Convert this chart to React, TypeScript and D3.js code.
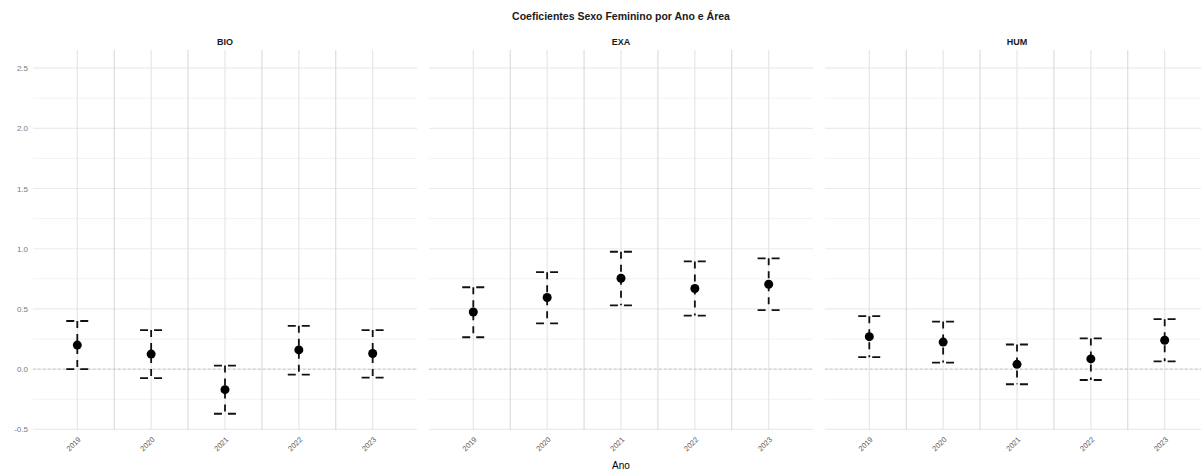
import React from 'react'
import * as d3 from 'd3'

const width = 1201
const height = 470

const years = ['2019', '2020', '2021', '2022', '2023']
const areas = ['BIO', 'EXA', 'HUM']

// coefficient and confidence interval per area, in year order
const bioEst = [0.2, 0.125, -0.17, 0.16, 0.13]
const bioLow = [0.0, -0.075, -0.37, -0.045, -0.07]
const bioHigh = [0.4, 0.325, 0.03, 0.36, 0.325]

const exaEst = [0.475, 0.595, 0.755, 0.67, 0.705]
const exaLow = [0.265, 0.38, 0.53, 0.445, 0.49]
const exaHigh = [0.68, 0.805, 0.975, 0.895, 0.92]

const humEst = [0.27, 0.225, 0.04, 0.085, 0.24]
const humLow = [0.1, 0.055, -0.125, -0.09, 0.065]
const humHigh = [0.44, 0.395, 0.205, 0.255, 0.415]

const yTicks = [-0.5, 0.0, 0.5, 1.0, 1.5, 2.0, 2.5]
const yMinor = [-0.25, 0.25, 0.75, 1.25, 1.75, 2.25]

const series = [
  { est: bioEst, low: bioLow, high: bioHigh },
  { est: exaEst, low: exaLow, high: exaHigh },
  { est: humEst, low: humLow, high: humHigh },
]

const panelLeft = 33
const panelWidth = 384
const panelGap = 12
const panelTop = 50
const panelBottom = 430

const font = '"Liberation Sans", Arial, sans-serif'

const y = d3.scaleLinear().domain([-0.505, 2.65]).range([panelBottom, panelTop])

export default function App() {
  return (
    <svg
      width={width}
      height={height}
      style={{ position: 'absolute', left: 0, top: 0, background: '#fff' }}
      fontFamily={font}
    >
      <text x={621} y={20} textAnchor="middle" fontSize={10.5} fontWeight="bold" fill="#1a1a1a">
        Coeficientes Sexo Feminino por Ano e Área
      </text>

      {areas.map((area, p) => {
        const x0 = panelLeft + p * (panelWidth + panelGap)
        const x = d3.scalePoint<string>().domain(years).range([x0, x0 + panelWidth]).padding(0.6)
        const step = x.step()
        const cap = step * 0.3
        const s = series[p]
        const between = years.slice(1).map(yr => (x(yr) as number) - step / 2)

        return (
          <g key={area}>
            <text x={x0 + panelWidth / 2} y={45} textAnchor="middle" fontSize={9} fontWeight="bold" fill="#1a1a1a">
              {area}
            </text>

            {yMinor.map(v => (
              <line key={'m' + v} x1={x0} x2={x0 + panelWidth} y1={y(v)} y2={y(v)} stroke="#f2f2f2" strokeWidth={1} />
            ))}
            {yTicks.map(v => (
              <line key={'M' + v} x1={x0} x2={x0 + panelWidth} y1={y(v)} y2={y(v)} stroke="#ebebeb" strokeWidth={1.2} />
            ))}
            {years.map(yr => (
              <line key={'v' + yr} x1={x(yr)} x2={x(yr)} y1={panelTop} y2={panelBottom} stroke="#e6e6e6" strokeWidth={1.2} />
            ))}
            {between.map(bx => (
              <line key={'b' + bx} x1={bx} x2={bx} y1={panelTop} y2={panelBottom} stroke="#d6d6d6" strokeWidth={1} />
            ))}

            <line x1={x0} x2={x0 + panelWidth} y1={y(0)} y2={y(0)} stroke="#c4c4c4" strokeWidth={1} strokeDasharray="2.5,2.5" />

            {years.map((yr, i) => {
              const cx = x(yr) as number
              return (
                <g key={'e' + yr} stroke="#111" strokeWidth={1.8} strokeDasharray="7,6" fill="none">
                  <line x1={cx - cap / 2} x2={cx + cap / 2} y1={y(s.high[i])} y2={y(s.high[i])} strokeDasharray="8,6" />
                  <line x1={cx} x2={cx} y1={y(s.high[i])} y2={y(s.low[i])} />
                  <line x1={cx - cap / 2} x2={cx + cap / 2} y1={y(s.low[i])} y2={y(s.low[i])} strokeDasharray="8,6" />
                </g>
              )
            })}
            {years.map((yr, i) => (
              <circle key={'p' + yr} cx={x(yr)} cy={y(s.est[i])} r={4.5} fill="#000" />
            ))}

            {years.map(yr => (
              <text
                key={'t' + yr}
                transform={`translate(${(x(yr) as number) + 4},${440}) rotate(-45)`}
                textAnchor="end"
                fontSize={7.5}
                fill="#5a5a5a"
              >
                {yr}
              </text>
            ))}
          </g>
        )
      })}

      {yTicks.map(v => (
        <text key={'yl' + v} x={28} y={y(v) + 3} textAnchor="end" fontSize={8} fill="#7a7a7a">
          {v.toFixed(1)}
        </text>
      ))}

      <text x={621} y={469} textAnchor="middle" fontSize={10} fill="#000">
        Ano
      </text>
    </svg>
  )
}
